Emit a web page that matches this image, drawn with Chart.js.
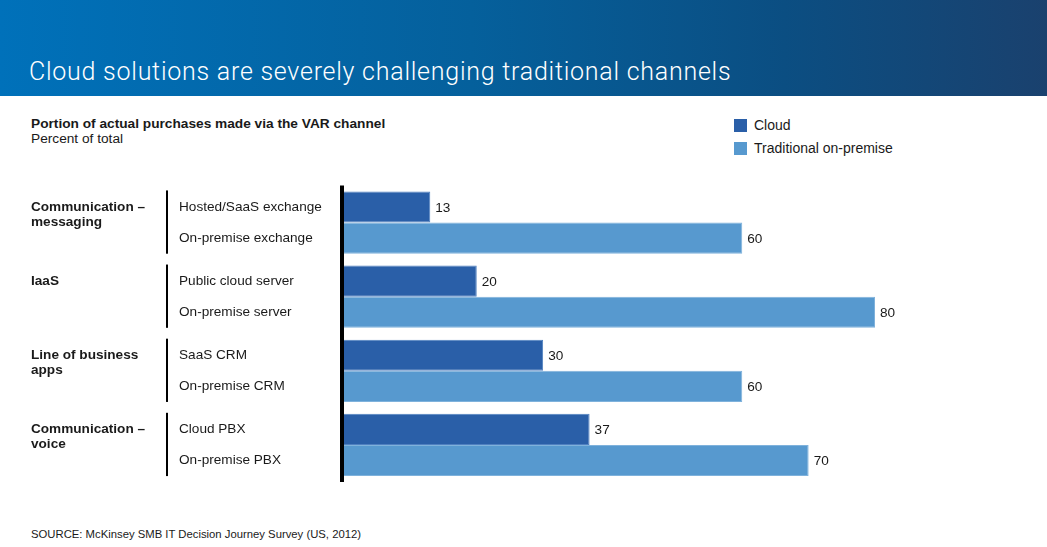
<!DOCTYPE html>
<html>
<head>
<meta charset="utf-8">
<script src="https://cdn.jsdelivr.net/npm/chart.js@4"></script>
<style>
  body { margin: 0; width: 1047px; height: 547px; background: #fff; position: relative; overflow: hidden;
         font-family: "Liberation Sans", Arial, sans-serif; color: #1a1a1a; }
  #banner { position: absolute; left: 0; top: 0; width: 1047px; height: 96px;
            background: linear-gradient(to right, #0071ba 0%, #05609c 45%, #0b4e82 75%, #1a416e 100%); }
  #title { position: absolute; left: 29px; top: 57px; color: #fff; font-family: Roboto, sans-serif;
           font-weight: 300; font-size: 25px; letter-spacing: 0.75px; white-space: nowrap; }
  #sub1 { position: absolute; left: 31px; top: 116px; font-size: 13.7px; font-weight: bold; }
  #sub2 { position: absolute; left: 31px; top: 131px; font-size: 13.7px; }
  .leg { position: absolute; left: 734px; font-size: 14px; white-space: nowrap; }
  .leg span { display: inline-block; width: 13px; height: 13px; vertical-align: -2px; margin-right: 7px; }
  #source { position: absolute; left: 31px; top: 528px; font-size: 11.3px; }
  #chart { position: absolute; left: 0; top: 170px; }
</style>
</head>
<body>
<div id="banner"></div>
<div id="title">Cloud solutions are severely challenging traditional channels</div>
<div id="sub1">Portion of actual purchases made via the VAR channel</div>
<div id="sub2">Percent of total</div>
<div class="leg" style="top:117px"><span style="background:#2a5fa8"></span>Cloud</div>
<div class="leg" style="top:140px"><span style="background:#5799cf"></span>Traditional on-premise</div>
<canvas id="chart" width="1047" height="330"></canvas>
<div id="source">SOURCE: McKinsey SMB IT Decision Journey Survey (US, 2012)</div>
<script>
// Data
const groups = [['Communication –', 'messaging'], ['IaaS'], ['Line of business', 'apps'], ['Communication –', 'voice']];
const cloudLabels = ['Hosted/SaaS exchange', 'Public cloud server', 'SaaS CRM', 'Cloud PBX'];
const premiseLabels = ['On-premise exchange', 'On-premise server', 'On-premise CRM', 'On-premise PBX'];
const cloudValues = [13, 20, 30, 37];
const premiseValues = [60, 80, 60, 70];

// draws axis line, row labels and value labels
const labelsPlugin = {
    id: 'labels',
    afterDatasetsDraw(chart) {
        const ctx = chart.ctx;
        const area = chart.chartArea;
        const m0 = chart.getDatasetMeta(0);
        const m1 = chart.getDatasetMeta(1);
        ctx.save();
        ctx.fillStyle = '#000';
        ctx.fillRect(area.left - 4, area.top, 4, area.bottom - area.top);

        ctx.textBaseline = 'middle';
        for (let i = 0; i < groups.length; i++) {
            const b0 = m0.data[i], b1 = m1.data[i];
            // separator line
            const top = b0.y - b0.height / 2 - 1;
            const bot = b1.y + b1.height / 2;
            ctx.fillStyle = '#000';
            ctx.fillRect(166, top, 2, bot - top);
            // group label
            ctx.fillStyle = '#1a1a1a';
            ctx.font = 'bold 13.6px "Liberation Sans", Arial, sans-serif';
            groups[i].forEach((line, k) => ctx.fillText(line, 31, b0.y + k * 15));
            ctx.font = '13.6px "Liberation Sans", Arial, sans-serif';
            ctx.fillText(cloudLabels[i], 179, b0.y);
            ctx.fillText(premiseLabels[i], 179, b1.y);
            // values
            ctx.fillText(cloudValues[i], b0.x + 5, b0.y + 1);
            ctx.fillText(premiseValues[i], b1.x + 5, b1.y + 1);
        }
        ctx.restore();
    }
};

const ctx = document.getElementById('chart').getContext('2d');
const chart = new Chart(ctx, {
    type: 'bar',
    data: {
        labels: groups.map(g => g.join(' ')),
        datasets: [{
            label: 'Cloud',
            data: cloudValues,
            backgroundColor: '#2a5fa8',
            borderColor: '#4f80c0',
            borderWidth: 1
        }, {
            label: 'Traditional on-premise',
            data: premiseValues,
            backgroundColor: '#5799cf',
            borderColor: '#7fb2dc',
            borderWidth: 1
        }]
    },
    options: {
        indexAxis: 'y',
        responsive: false,
        animation: false,
        devicePixelRatio: 1,
        categoryPercentage: 0.84,
        barPercentage: 1.0,
        layout: { padding: { left: 344, right: 105.6, top: 15.5, bottom: 18 } },
        scales: {
            x: { display: false, min: 0, max: 90 },
            y: { display: false }
        },
        plugins: {
            legend: { display: false },
            tooltip: { enabled: false }
        }
    },
    plugins: [labelsPlugin]
});
</script>
</body>
</html>
